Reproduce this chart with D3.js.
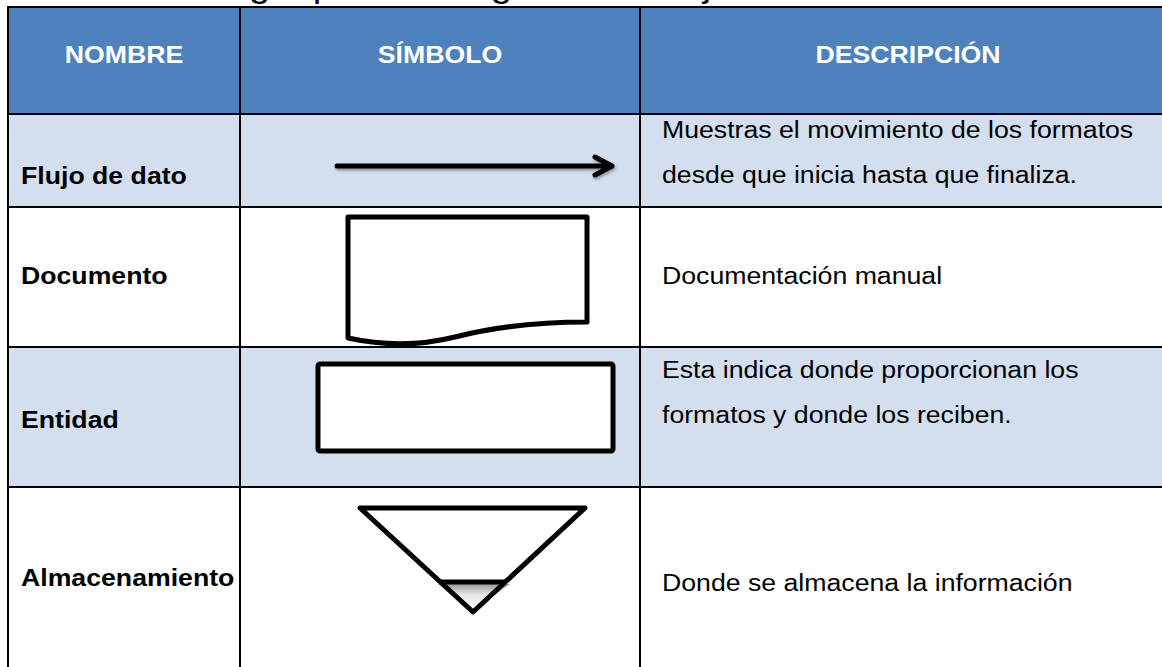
<!DOCTYPE html>
<html><head><meta charset="utf-8">
<script src="https://cdn.jsdelivr.net/npm/d3@7"></script>
<style>html,body{margin:0;padding:0;background:#fff;overflow:hidden}</style>
</head><body>
<svg id="c" width="1162" height="667"></svg>
<script>
// ---- data ----
const headers = ["NOMBRE", "SÍMBOLO", "DESCRIPCIÓN"];
const names = ["Flujo de dato", "Documento", "Entidad", "Almacenamiento"];
const symbols = ["flujo", "documento", "entidad", "almacenamiento"];
const descriptions = [
  ["Muestras el movimiento de los formatos", "desde que inicia hasta que finaliza."],
  ["Documentación manual"],
  ["Esta indica donde proporcionan los", "formatos y donde los reciben."],
  ["Donde se almacena la información"]
];
const titleText = "Figura 1. Simbología para el diagrama de flujo";

// ---- layout ----
const W = 1162, H = 667;
const colEdges = [8, 240, 640, 1176];
const rowEdges = [7, 114, 207, 347, 487, 720];
const rowFill = ["#D3DFEE", "#FFFFFF", "#D3DFEE", "#FFFFFF"];
const headerFill = "#4F81BD";
const FONT = "'Liberation Sans', Arial, sans-serif";
const FS = 23, SX = 1.16;
const nameBaseline = [184, 284, 428, 586];
const descBaseline = [138, 284, 378, 591];
const lineGap = 45;

const svg = d3.select("#c");
const defs = svg.append("defs");
const sh = defs.append("filter").attr("id", "shadow").attr("x", "-10%").attr("y", "-50%").attr("width", "120%").attr("height", "200%");
sh.append("feDropShadow").attr("dx", 1).attr("dy", 2).attr("stdDeviation", 1.5).attr("flood-color", "#000").attr("flood-opacity", 0.35);
const grad = defs.append("linearGradient").attr("id", "shade").attr("x1", 0).attr("y1", 0).attr("x2", 0).attr("y2", 1);
grad.append("stop").attr("offset", 0).attr("stop-color", "#9a9a9a");
grad.append("stop").attr("offset", 0.4).attr("stop-color", "#e8e8e8");
grad.append("stop").attr("offset", 1).attr("stop-color", "#ffffff");

function text(sel, str, x, y, opt) {
  opt = opt || {};
  return sel.append("text")
    .attr("transform", `translate(${x},${y}) scale(${opt.sx || SX},1)`)
    .attr("font-family", FONT)
    .attr("font-size", opt.fs || FS)
    .attr("font-weight", opt.bold ? "bold" : "normal")
    .attr("fill", opt.fill || "#000")
    .attr("text-anchor", opt.anchor || "start")
    .text(str);
}

// title (mostly cut off at the top, as in the source)
const TFS = 32.9, TSX = 1.16, TY = -3;
const tt = text(svg, titleText, 0, TY, { fs: TFS, sx: TSX });
const gi = titleText.indexOf("gía");
const gx = tt.node().getStartPositionOfChar(gi).x * TSX;
tt.attr("transform", `translate(${249 - gx},${TY}) scale(${TSX},1)`);

// header background
svg.append("rect").attr("x", colEdges[0]).attr("y", rowEdges[0])
  .attr("width", W - colEdges[0]).attr("height", rowEdges[1] - rowEdges[0]).attr("fill", headerFill);
// row backgrounds
svg.selectAll("rect.row").data(names).join("rect").attr("class", "row")
  .attr("x", colEdges[0]).attr("y", (d, i) => rowEdges[i + 1])
  .attr("width", W - colEdges[0]).attr("height", (d, i) => rowEdges[i + 2] - rowEdges[i + 1])
  .attr("fill", (d, i) => rowFill[i]);

// header labels
headers.forEach((h, i) => {
  const cx = (colEdges[i] + colEdges[i + 1]) / 2;
  text(svg, h, cx, 63, { bold: true, fill: "#FFFFFF", anchor: "middle" });
});

// names
names.forEach((n, i) => text(svg, n, colEdges[0] + 13, nameBaseline[i], { bold: true }));
// descriptions
descriptions.forEach((lines, i) => lines.forEach((l, j) =>
  text(svg, l, colEdges[2] + 22, descBaseline[i] + j * lineGap)));

// symbols
const sym = svg.append("g").attr("fill", "none").attr("stroke", "#000").attr("stroke-width", 5);
symbols.forEach((s, i) => {
  if (s === "flujo") {
    const g = sym.append("g").attr("filter", "url(#shadow)").attr("stroke-linecap", "round").attr("stroke-linejoin", "round");
    g.append("line").attr("x1", 337).attr("y1", 166).attr("x2", 611).attr("y2", 166);
    g.append("path").attr("d", d3.line()([[595, 157], [612, 166], [595, 175]]));
  } else if (s === "documento") {
    const p = d3.path();
    p.moveTo(348, 217); p.lineTo(587, 217); p.lineTo(587, 322);
    p.bezierCurveTo(530, 322, 490, 328, 455, 337);
    p.bezierCurveTo(415, 347, 380, 345, 348, 338);
    p.closePath();
    sym.append("path").attr("d", p.toString()).attr("fill", "#fff").attr("stroke-linejoin", "round");
  } else if (s === "entidad") {
    sym.append("rect").attr("x", 318).attr("y", 364).attr("width", 295).attr("height", 87)
      .attr("rx", 2).attr("fill", "#fff").attr("stroke-linejoin", "round");
  } else if (s === "almacenamiento") {
    sym.append("path").attr("d", d3.line()([[438, 584], [510, 584], [474, 611]]) + "Z")
      .attr("fill", "url(#shade)").attr("stroke", "none");
    sym.append("path").attr("d", d3.line()([[360, 508], [585, 508], [473, 612]]) + "Z")
      .attr("stroke-linejoin", "round");
    sym.append("line").attr("x1", 441).attr("y1", 582).attr("x2", 506).attr("y2", 582);
  }
});

// grid lines
const grid = svg.append("g").attr("stroke", "#000").attr("stroke-width", 2);
grid.selectAll("line.h").data(rowEdges.slice(0, 5)).join("line").attr("class", "h")
  .attr("x1", colEdges[0] - 1).attr("x2", W).attr("y1", d => d).attr("y2", d => d);
grid.selectAll("line.v").data(colEdges.slice(0, 3)).join("line").attr("class", "v")
  .attr("x1", d => d).attr("x2", d => d).attr("y1", rowEdges[0] - 1).attr("y2", H);
</script>
</body></html>
